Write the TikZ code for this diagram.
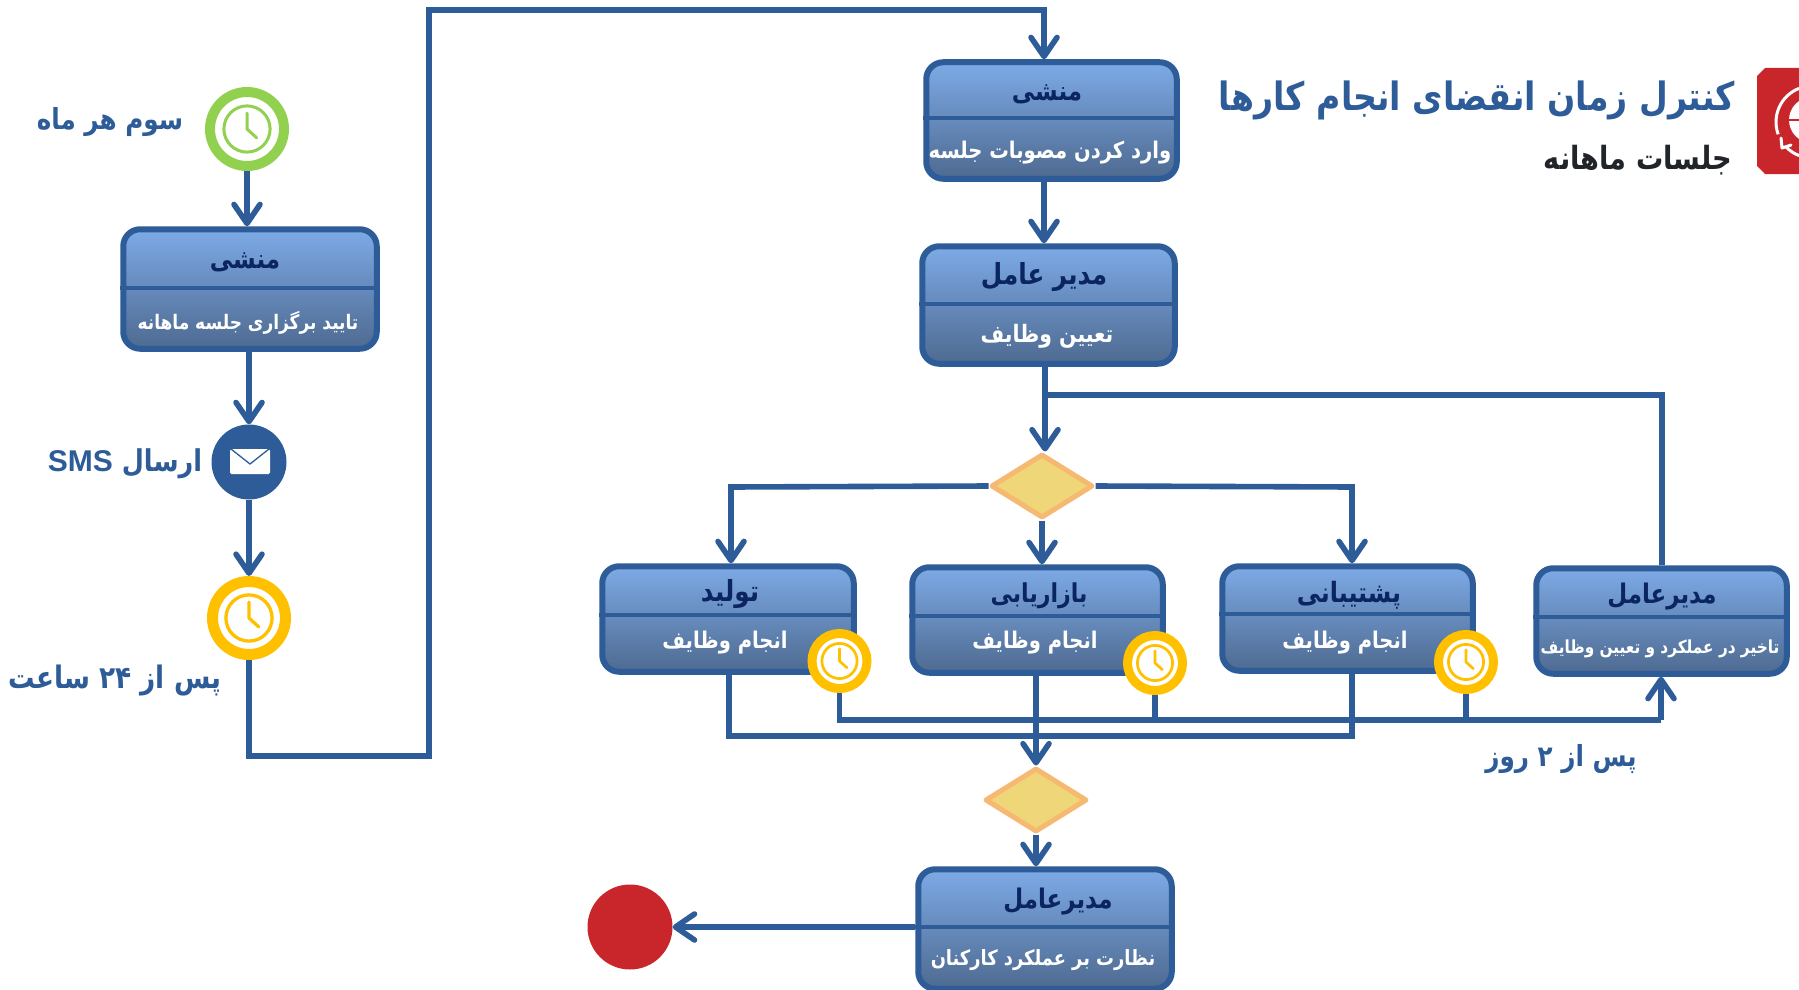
\documentclass[tikz,border=0pt]{standalone}
\usepackage{fontspec}
\usetikzlibrary{arrows.meta,shapes.geometric,calc}
\TeXXeTstate=1
\newfontfamily\fa[Script=Arabic,FakeStretch=0.85]{DejaVu Sans}
\newfontfamily\lat{Liberation Sans}
\newcommand{\fs}[1]{\fontsize{#1}{#1}\selectfont}
\definecolor{flowblue}{HTML}{2D5C98}
\definecolor{navy}{HTML}{0B2563}
\definecolor{gradtop}{HTML}{7DAAE6}
\definecolor{gradbot}{HTML}{4E6A90}
\definecolor{dfill}{HTML}{EFD678}
\definecolor{dline}{HTML}{F5B971}
\definecolor{redc}{HTML}{C8262A}
\definecolor{greenc}{HTML}{92D14F}
\definecolor{yellowc}{HTML}{FFC000}
\definecolor{ink}{HTML}{212529}
\tikzset{
  flow/.style={draw=flowblue,line width=5.6pt,line join=miter},
  flowa/.style={flow,-{Straight Barb[round,length=19pt,width=26pt,line width=5.6pt]}},
  actbox/.style={draw=flowblue,line width=6pt,rounded corners=17pt,top color=gradtop,bottom color=gradbot,inner sep=0pt},
  divline/.style={draw=flowblue,line width=4.5pt},
  titletxt/.style={font=\fa\bfseries,text=navy,inner sep=0pt,yshift=-2.5pt},
  subtxt/.style={font=\fa\bfseries,text=white,inner sep=0pt,yshift=-2.5pt},
  labeltxt/.style={font=\fa\bfseries,text=flowblue,inner sep=0pt},
  gate/.style={diamond,aspect=1.6,draw=dline,fill=dfill,line width=5pt,line join=round,minimum width=102pt,minimum height=64pt,inner sep=0pt},
}
% name, x1,y1,x2,y2,ydiv, title position, title, sub position, then the sub text follows
\newcommand{\actnode}[9]{%
  \node[actbox,minimum width={#4-#2-4.5pt},minimum height={#5-#3-4.5pt}] (#1) at ({(#2+#4)/2},{(#3+#5)/2}) {};
  \draw[divline] (#1.west |- 0,#6) -- (#1.east |- 0,#6);
  \node[titletxt] (#1t) at (#7) {#8};
  \node[subtxt] (#1s) at (#9) }
\newcommand{\clocknode}[6]{% name, x,y, ring diameter, ring width, colour
  \node[circle,draw=#6,fill=white,line width=#5pt,minimum size={#4-#5},inner sep=0pt] (#1) at (#2,#3) {};
  \draw[#6,line width=#5pt*0.3] (#1.center) circle ({#4*0.275});
  \draw[#6,line width=#5pt*0.3,line cap=round,line join=round] ($(#1.center)+(0,{-#4*0.19})$) -- (#1.center) -- ($(#1.center)+({#4*0.115},{#4*0.105})$);
}
\begin{document}
\begin{tikzpicture}[x=1pt,y=-1pt]
\useasboundingbox (0,0) rectangle (1799,990);

% red header block with its cropped icon
\fill[redc] (1765,68) -- (1799,68) -- (1799,174) -- (1765,174) -- (1757,166) -- (1757,76) -- cycle;
\begin{scope}
\clip (1757,68) rectangle (1799,174);
\draw[white,line width=3pt] (1812,122) ++(-111:36) arc[start angle=-111,end angle=-200,radius=36];
\draw[white,line width=3pt] (1812,122) ++(137:36) arc[start angle=137,end angle=111,radius=36];
\draw[white,line width=3pt,line cap=round,line join=round] (1781,138) -- (1782,148) -- (1791,145);
\fill[white] (1812,120) circle (23);
\draw[redc,line width=2.6pt] (1788,120) -- (1799,120);
\end{scope}

% titles
\node[font=\fa\bfseries\fs{39},text=flowblue,inner sep=0pt] (title) at (1477,100) {\beginR کنترل زمان انقضای انجام کارها\endR};
\node[font=\fa\bfseries\fs{32},text=ink,inner sep=0pt] (subtitle) at (1638,160) {\beginR جلسات ماهانه\endR};

% boxes
\actnode{left}{121}{227}{379}{351}{288}{245,260}{\fs{27}\beginR منشی\endR}{248,320} {\fs{20}\beginR تایید برگزاری جلسه ماهانه\endR};
\actnode{topa}{924}{60}{1179}{181}{118}{1047,92}{\fs{27}\beginR منشی\endR}{1050,150} {\fs{23}\beginR وارد کردن مصوبات جلسه\endR};
\actnode{topb}{920}{244}{1177}{366}{304}{1044,275}{\fs{29}\beginR مدیر عامل\endR}{1047,334} {\fs{24}\beginR تعیین وظایف\endR};
\actnode{tolid}{600}{564}{856}{674}{615}{730,592}{\fs{29}\beginR تولید\endR}{725,640} {\fs{23}\beginR انجام وظایف\endR};
\actnode{baz}{910}{565}{1165}{675}{616}{1039,593}{\fs{26}\beginR بازاریابی\endR}{1035,640} {\fs{23}\beginR انجام وظایف\endR};
\actnode{posh}{1220}{564}{1475}{673}{614}{1349,593}{\fs{28}\beginR پشتیبانی\endR}{1345,640} {\fs{23}\beginR انجام وظایف\endR};
\actnode{modir}{1534}{566}{1789}{676}{617}{1662,594}{\fs{27}\beginR مدیرعامل\endR}{1660,646} {\fs{18}\beginR تاخیر در عملکرد و تعیین وظایف\endR};
\actnode{last}{916}{867}{1174}{991}{927}{1058,899}{\fs{27}\beginR مدیرعامل\endR}{1043,958} {\fs{21}\beginR نظارت بر عملکرد کارکنان\endR};

% gates
\node[gate] (g1) at (1042,486) {};
\node[gate] (g2) at (1036,800) {};

% event circles
\clocknode{start}{247}{129}{84}{10}{greenc}
\node[circle,fill=flowblue,minimum size=75pt,inner sep=0pt] (sms) at (249,462) {};
\fill[white,rounded corners=1.5pt] (230,449) rectangle (270,474);
\draw[flowblue,line width=1.3pt] (231,449) -- (250,464) -- (269,449);
\clocknode{wait}{249}{618}{84}{11}{yellowc}
\clocknode{c1}{839.5}{661}{64}{9}{yellowc}
\clocknode{c2}{1155}{663}{64}{9}{yellowc}
\clocknode{c3}{1466}{662}{64}{9}{yellowc}
\node[circle,fill=redc,minimum size=85pt,inner sep=0pt] (endn) at (630,927) {};

% bend coordinates
\coordinate (bl) at (249,756);
\coordinate (br) at (429,756);
\coordinate (tr) at (429,10);
\coordinate (tt) at (1044,10);
\coordinate (sp) at (1045,395);
\coordinate (spr) at (1662,395);
\coordinate (gl) at (731,487);
\coordinate (gr) at (1352,487);
\coordinate (j1) at (729,736);
\coordinate (j2) at (1352,736);
\coordinate (j3) at (1036,736);
\coordinate (y1) at (839.5,720);
\coordinate (y2) at (1661,720);

% connectors
\draw[flowa] (start.south) -- (start.south |- left.north);
\draw[flowa] (sms.north |- left.south) -- (sms.north);
\draw[flowa] (sms.south) -- (wait.north);
\draw[flow] (wait.south) -- (bl) -- (br) -- (tr) -- (tt) -- ++(0,10);
\draw[flowa] (tt) -- (tt |- topa.north);
\draw[flowa] (tt |- topa.south) -- (tt |- topb.north);
\draw[flowa] (sp |- topb.south) -- (sp |- g1.north);
\draw[flow] (sp) -- (spr) -- (spr |- modir.north);
\draw[flowa] (g1.west) -- (gl) -- (gl |- tolid.north);
\draw[flowa] (g1.east) -- (gr) -- (gr |- posh.north);
\draw[flowa] (g1.south) -- (g1.south |- baz.north);
\draw[flow] (j1 |- tolid.south) -- (j1) -- (j2) -- (j2 |- posh.south);
\draw[flowa] (j3 |- baz.south) -- (g2.north);
\draw[flow] (c1.south) -- (y1) -- (y2);
\draw[flow] (c2.south) -- (c2.south |- y1);
\draw[flow] (c3.south) -- (c3.south |- y1);
\draw[flowa] (y2) -- (y2 |- modir.south);
\draw[flowa] (g2.south) -- (g2.south |- last.north);
\draw[flowa] (last.west |- endn.east) -- (endn.east);

% labels
\node[labeltxt] (l1) at (110,122) {\fs{29}\beginR سوم هر ماه\endR};
\node[labeltxt] (l2) at (125,464) {\fs{30}\beginR ارسال {\lat\beginL SMS\endL}\endR};
\node[labeltxt] (l3) at (115,681) {\fs{31}\beginR پس از \beginL ۲۴\endL{} ساعت\endR};
\node[labeltxt] (l4) at (1561,759) {\fs{29}\beginR پس از \beginL ۲\endL{} روز\endR};
\end{tikzpicture}
\end{document}
